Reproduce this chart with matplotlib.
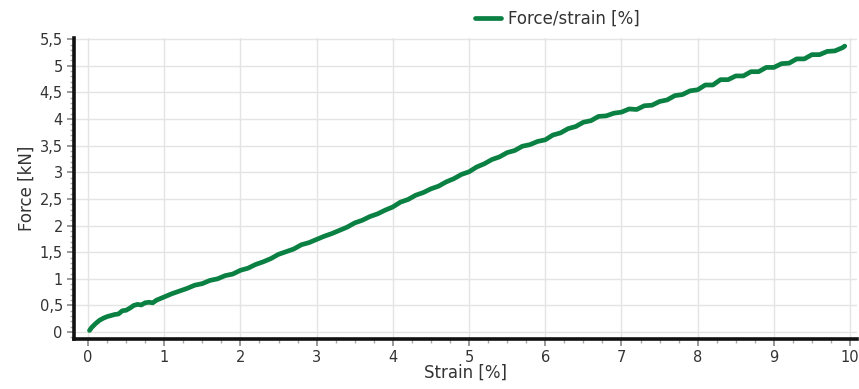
import matplotlib.pyplot as plt
from matplotlib.ticker import MultipleLocator, FuncFormatter

plt.rcParams['font.family'] = ['DejaVu Sans']

# strain [%] and measured force [kN]
strain = [0.02, 0.05, 0.10, 0.15, 0.20, 0.25, 0.30, 0.35, 0.40, 0.45,
          0.50, 0.55, 0.60, 0.65, 0.70, 0.75, 0.80, 0.85, 0.90, 0.95,
          1.0, 1.1, 1.2, 1.3, 1.4, 1.5, 1.6, 1.7, 1.8, 1.9,
          2.0, 2.1, 2.2, 2.3, 2.4, 2.5, 2.6, 2.7, 2.8, 2.9,
          3.0, 3.1, 3.2, 3.3, 3.4, 3.5, 3.6, 3.7, 3.8, 3.9,
          4.0, 4.1, 4.2, 4.3, 4.4, 4.5, 4.6, 4.7, 4.8, 4.9,
          5.0, 5.1, 5.2, 5.3, 5.4, 5.5, 5.6, 5.7, 5.8, 5.9,
          6.0, 6.1, 6.2, 6.3, 6.4, 6.5, 6.6, 6.7, 6.8, 6.9,
          7.0, 7.1, 7.2, 7.3, 7.4, 7.5, 7.6, 7.7, 7.8, 7.9,
          8.0, 8.1, 8.2, 8.3, 8.4, 8.5, 8.6, 8.7, 8.8, 8.9,
          9.0, 9.1, 9.2, 9.3, 9.4, 9.5, 9.6, 9.7, 9.8, 9.9, 9.93]
force = [0.03, 0.09, 0.16, 0.22, 0.26, 0.29, 0.31, 0.33, 0.34, 0.40,
         0.41, 0.45, 0.50, 0.52, 0.51, 0.55, 0.56, 0.55, 0.60, 0.63,
         0.66, 0.72, 0.77, 0.82, 0.88, 0.91, 0.97, 1.00, 1.06, 1.09,
         1.16, 1.20, 1.27, 1.32, 1.38, 1.46, 1.51, 1.56, 1.64, 1.68,
         1.74, 1.80, 1.85, 1.91, 1.97, 2.05, 2.10, 2.17, 2.22, 2.29,
         2.35, 2.44, 2.49, 2.57, 2.62, 2.69, 2.74, 2.82, 2.88, 2.96,
         3.01, 3.10, 3.16, 3.24, 3.29, 3.37, 3.41, 3.49, 3.52, 3.58,
         3.61, 3.70, 3.74, 3.82, 3.86, 3.94, 3.97, 4.05, 4.06, 4.11,
         4.13, 4.19, 4.18, 4.25, 4.26, 4.33, 4.36, 4.44, 4.46, 4.53,
         4.55, 4.64, 4.64, 4.74, 4.74, 4.81, 4.81, 4.89, 4.89, 4.97,
         4.97, 5.04, 5.05, 5.13, 5.13, 5.21, 5.21, 5.27, 5.28, 5.34, 5.37]

fig = plt.figure(figsize=(8.59, 3.89), dpi=100)
ax = fig.add_axes([0.0861, 0.1285, 0.9115, 0.7735])

ax.plot(strain, force, color='#0b8043', linewidth=3.4, label='Force/strain [%]',
        solid_joinstyle='round', solid_capstyle='round', zorder=3)

ax.set_xlim(-0.184, 10.09)
ax.set_ylim(-0.13, 5.52)

ax.xaxis.set_major_locator(MultipleLocator(1))
ax.xaxis.set_minor_locator(MultipleLocator(0.25))
ax.yaxis.set_major_locator(MultipleLocator(0.5))
ax.yaxis.set_minor_locator(MultipleLocator(0.1))

comma = FuncFormatter(lambda v, pos: f'{v:g}'.replace('.', ','))
ax.xaxis.set_major_formatter(comma)
ax.yaxis.set_major_formatter(comma)

ax.grid(True, which='major', color='#e4e4e4', linewidth=1.0, zorder=0)
ax.set_axisbelow(True)

for side in ('top', 'right'):
    ax.spines[side].set_visible(False)
for side in ('left', 'bottom'):
    ax.spines[side].set_linewidth(2.6)
    ax.spines[side].set_color('#111111')

ax.tick_params(which='major', length=5, width=1.2, color='#888888',
               labelsize=10.5, labelcolor='#333333', pad=3)
ax.tick_params(which='minor', length=3, width=1.0, color='#aaaaaa')

ax.set_xlabel('Strain [%]', fontsize=12, color='#333333', labelpad=-1)
ax.set_ylabel('Force [kN]', fontsize=12, color='#333333', labelpad=3)

leg = ax.legend(loc='upper center', bbox_to_anchor=(0.617, 1.145), frameon=False,
                fontsize=12, handlelength=1.6, handletextpad=0.4)
for t in leg.get_texts():
    t.set_color('#333333')

fig.savefig('out.png', dpi=100)
